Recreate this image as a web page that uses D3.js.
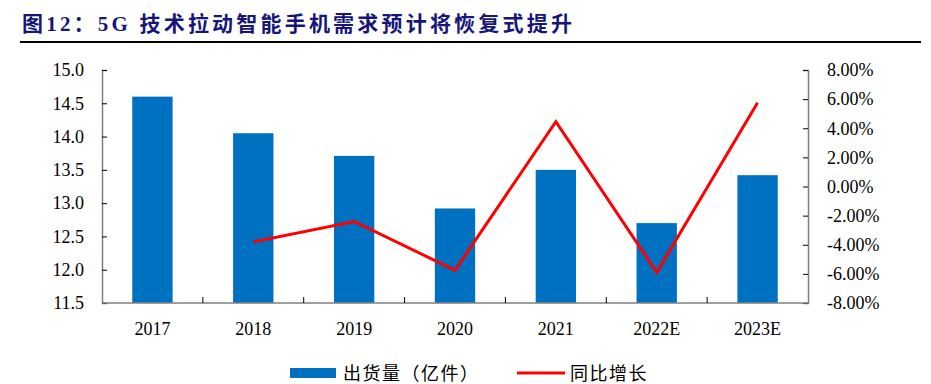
<!DOCTYPE html>
<html>
<head>
<meta charset="utf-8">
<script src="https://cdn.jsdelivr.net/npm/d3@7"></script>
<style>
  body { margin: 0; background: #fff; }
  svg { display: block; }
</style>
</head>
<body>
<div id="chart"></div>
<script>
// data
var years = ["2017", "2018", "2019", "2020", "2021", "2022E", "2023E"];
var shipments = [14.6, 14.05, 13.71, 12.92, 13.5, 12.7, 13.42];
var yoy = [null, -3.8, -2.4, -5.75, 4.45, -5.9, 5.75];
var leftTicks = [11.5, 12.0, 12.5, 13.0, 13.5, 14.0, 14.5, 15.0];
var rightTicks = [-8, -6, -4, -2, 0, 2, 4, 6, 8];

var W = 931, H = 384;
var margin = {top: 70, right: 123, bottom: 81, left: 102};
var axisCol = "#7f7f7f";
var serif = "'Liberation Serif', 'Times New Roman', serif";
var cjk = "'Liberation Serif', 'Noto Sans CJK SC', sans-serif";

var svg = d3.select("#chart").append("svg")
  .attr("width", W).attr("height", H);

// title + rule
svg.append("text")
  .attr("x", 22).attr("y", 31)
  .attr("fill", "#16167a")
  .style("font-family", cjk)
  .style("font-weight", "bold")
  .style("font-size", "21px")
  .style("letter-spacing", "3.2px")
  .text("图12：5G 技术拉动智能手机需求预计将恢复式提升");
svg.append("line")
  .attr("x1", 20).attr("x2", 921).attr("y1", 42).attr("y2", 42)
  .attr("stroke", "#000").attr("stroke-width", 2);

var x = d3.scaleBand()
  .domain(years)
  .range([margin.left, W - margin.right])
  .paddingInner(0.6).paddingOuter(0.3);
var xb = d3.scaleBand().domain(years).range([margin.left, W - margin.right]);

var yL = d3.scaleLinear().domain([11.5, 15]).range([H - margin.bottom, margin.top]);
var yR = d3.scaleLinear().domain([-8, 8]).range([H - margin.bottom, margin.top]);

// bars
svg.selectAll("rect.bar")
  .data(years)
  .enter().append("rect")
  .attr("class", "bar")
  .attr("x", function(d){ return x(d); })
  .attr("width", x.bandwidth())
  .attr("y", function(d, i){ return yL(shipments[i]); })
  .attr("height", function(d, i){ return yL(11.5) - yL(shipments[i]); })
  .attr("fill", "#0070c0");

// left axis
var gL = svg.append("g")
  .attr("transform", "translate(" + margin.left + ",0)")
  .call(d3.axisLeft(yL).tickValues(leftTicks).tickFormat(d3.format(".1f")).tickSizeInner(-5).tickSizeOuter(-5).tickPadding(18));
// right axis
var gR = svg.append("g")
  .attr("transform", "translate(" + (W - margin.right) + ",0)")
  .call(d3.axisRight(yR).tickValues(rightTicks).tickFormat(function(d){ return d.toFixed(2) + "%"; }).tickSizeInner(-5).tickSizeOuter(-5).tickPadding(19));

// x axis with ticks between categories
var gX = svg.append("g")
  .attr("transform", "translate(0," + (H - margin.bottom) + ")");
gX.append("line")
  .attr("x1", margin.left).attr("x2", W - margin.right)
  .attr("stroke", axisCol).attr("stroke-width", 1.5);
gX.selectAll("line.sep")
  .data(years.slice(1))
  .enter().append("line")
  .attr("class", "sep")
  .attr("x1", function(d){ return xb(d); }).attr("x2", function(d){ return xb(d); })
  .attr("y1", 0).attr("y2", -6)
  .attr("stroke", "#000").attr("stroke-width", 1);
gX.selectAll("text")
  .data(years)
  .enter().append("text")
  .attr("x", function(d){ return xb(d) + xb.bandwidth() / 2; })
  .attr("y", 32)
  .attr("text-anchor", "middle")
  .style("font-family", serif)
  .style("font-size", "18px")
  .text(function(d){ return d; });

[gL, gR].forEach(function(g){
  g.attr("font-family", null);
  g.select(".domain").attr("stroke", axisCol).attr("stroke-width", 1.5);
  g.selectAll(".tick line").attr("stroke", "#000");
  g.selectAll(".tick text")
    .attr("fill", "#000")
    .style("font-family", serif)
    .style("font-size", "18px");
});

// yoy line
var line = d3.line()
  .defined(function(d){ return d != null; })
  .x(function(d, i){ return xb(years[i]) + xb.bandwidth() / 2; })
  .y(function(d){ return yR(d); });
svg.append("path")
  .datum(yoy)
  .attr("d", line)
  .attr("fill", "none")
  .attr("stroke", "#ff0000")
  .attr("stroke-width", 3);

// legend
var lg = svg.append("g").attr("transform", "translate(0,373)");
lg.append("rect").attr("x", 290).attr("y", -5).attr("width", 46).attr("height", 10).attr("fill", "#0070c0");
lg.append("text").attr("x", 343).attr("y", 7)
  .style("font-family", "'Noto Sans CJK SC', sans-serif").style("font-size", "18px")
  .style("letter-spacing", "1.5px")
  .text("出货量（亿件）");
lg.append("line").attr("x1", 517).attr("x2", 565).attr("stroke", "#ff0000").attr("stroke-width", 3);
lg.append("text").attr("x", 570).attr("y", 7)
  .style("font-family", "'Noto Sans CJK SC', sans-serif").style("font-size", "18px")
  .style("letter-spacing", "1.5px")
  .text("同比增长");
</script>
</body>
</html>
